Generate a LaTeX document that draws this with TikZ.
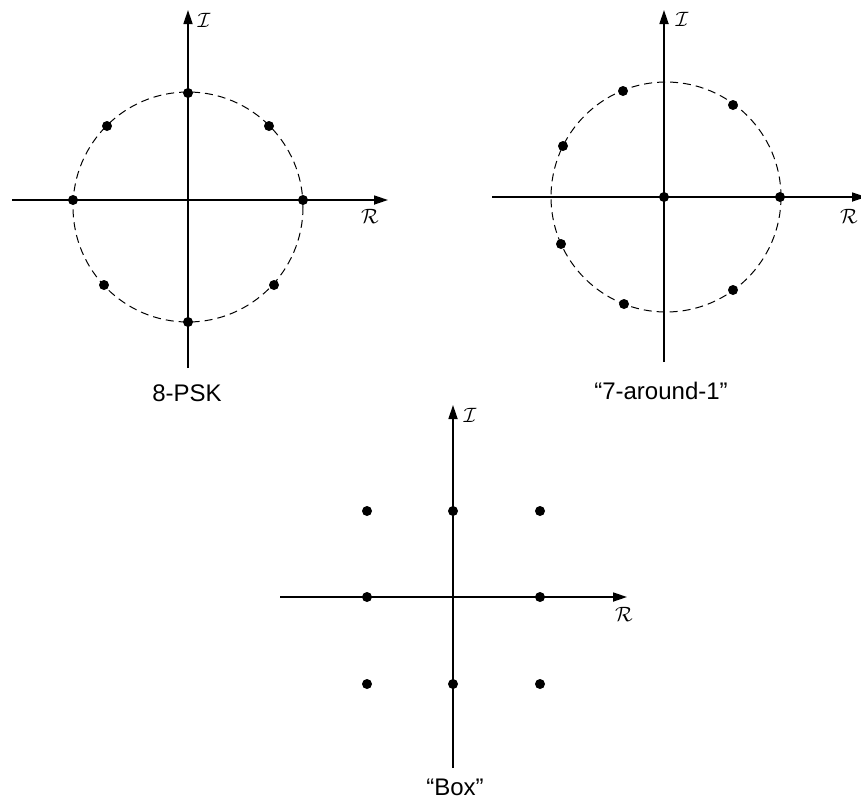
\documentclass[tikz,border=0pt]{standalone}
\usepackage{fontspec}
\setmainfont{Liberation Sans}
\usetikzlibrary{arrows.meta,calc}
\begin{document}
\begin{tikzpicture}[x=1pt,y=-1pt,
  axis/.style={line width=1.7pt,-{Triangle[length=14pt,width=9pt]}},
  ring/.style={line width=1pt,dash pattern=on 8pt off 5pt},
  pt/.style={circle,fill=black,inner sep=0pt,minimum size=10pt},
  lbl/.style={inner sep=0pt,font=\fontsize{24}{26}\selectfont},
  axlbl/.style={inner sep=0pt,font=\fontsize{22}{24}\selectfont}]
\useasboundingbox (0,0) rectangle (861,804);

% ---------- 8-PSK ----------
\coordinate (pskc) at (188,207);
\coordinate (pskL) at (12,200);
\coordinate (pskR) at (388,200);
\coordinate (pskB) at (188,368);
\coordinate (pskT) at (188,10);
\draw[axis] (pskL) -- (pskR);
\draw[axis] (pskB) -- (pskT);
\draw[ring] (pskc) circle[radius=115];
\foreach \p [count=\i] in {(188,93),(269,126),(303,200),(274,285),(188,322),(104,285),(73,200),(107,126)}
  \node[pt] (psk\i) at \p {};
\node[axlbl] (pskI) at (204,20) {$\mathcal{I}$};
\node[axlbl] (pskRl) at (370,216) {$\mathcal{R}$};
\node[lbl] (psklab) at (187,393) {8-PSK};

% ---------- 7-around-1 ----------
\coordinate (sevc) at (666,197);
\coordinate (sevL) at (492,197);
\coordinate (sevR) at (866,197);
\coordinate (sevB) at (664,362);
\coordinate (sevT) at (664,10);
\draw[axis] (sevL) -- (sevR);
\draw[axis] (sevB) -- (sevT);
\draw[ring] (sevc) circle[radius=115];
\node[pt] (sev0) at (664,197) {};
\foreach \p [count=\i] in {(780,197),(733,105),(623,91),(563,146),(561,244),(624,304),(733,290)}
  \node[pt] (sev\i) at \p {};
\node[axlbl] (sevI) at (682,19) {$\mathcal{I}$};
\node[axlbl] (sevRl) at (849,216) {$\mathcal{R}$};
\node[lbl] (sevlab) at (661,391) {``7-around-1''};

% ---------- Box ----------
\coordinate (boxL) at (280,597);
\coordinate (boxR) at (627,597);
\coordinate (boxB) at (453,768);
\coordinate (boxT) at (453,405);
\draw[axis] (boxL) -- (boxR);
\draw[axis] (boxB) -- (boxT);
\foreach \p [count=\i] in {(367,511),(453,511),(540,511),(367,597),(540,597),(367,684),(453,684),(540,684)}
  \node[pt] (box\i) at \p {};
\node[axlbl] (boxI) at (470,415) {$\mathcal{I}$};
\node[axlbl] (boxRl) at (624,614) {$\mathcal{R}$};
\node[lbl] (boxlab) at (455,787) {``Box''};
\end{tikzpicture}
\end{document}
